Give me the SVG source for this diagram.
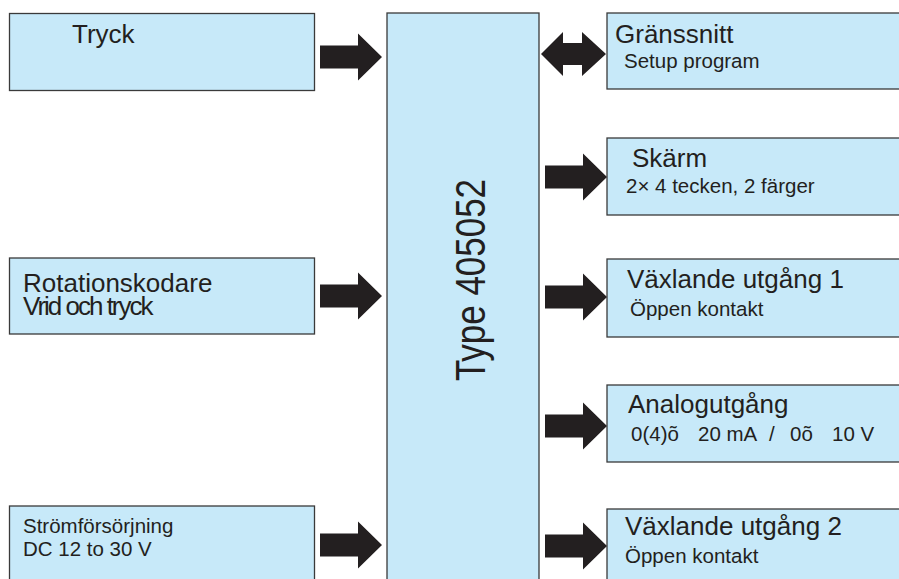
<svg xmlns="http://www.w3.org/2000/svg" xmlns:xlink="http://www.w3.org/1999/xlink" width="899" height="579" viewBox="0 0 899 579">
<defs>
<style>
.box{fill:#c7e9f9;stroke:#3a3a3a;stroke-width:1.3}
.arr{fill:#231f20}
text{font-family:"Liberation Sans",Arial,sans-serif;fill:#231f20}
.big{font-size:26px}
.sm{font-size:20.5px}
</style>
<path id="ar" d="M-62 -11.5 H-24 V-23.5 L0 0 L-24 23.5 V11.5 H-62 Z"/>
</defs>
<rect width="899" height="579" fill="#fff"/>
<g id="center">
<rect class="box" x="387" y="13" width="152" height="580"/>
<text x="0" y="0" font-size="38" text-anchor="middle" transform="translate(485 280) rotate(-90) scale(0.92 1.12)">Type 405052</text>
</g>
<g id="tryck">
<rect class="box" x="9.5" y="13.5" width="305" height="77"/>
<text class="big" x="72" y="43">Tryck</text>
</g>
<g id="rotation">
<rect class="box" x="9.5" y="258" width="305" height="76"/>
<text class="big" x="23" y="292">Rotationskodare</text>
<text class="big" x="23" y="315" letter-spacing="-2">Vrid och tryck</text>
</g>
<g id="strom">
<rect class="box" x="9.5" y="506" width="305" height="90"/>
<text class="sm" x="23" y="533" font-size="21">Strömförsörjning</text>
<text class="sm" x="23" y="556" font-size="21">DC 12 to 30 V</text>
</g>
<g id="granssnitt">
<rect class="box" x="607" y="13" width="300" height="76"/>
<text class="big" x="615" y="43">Gränssnitt</text>
<text class="sm" x="624" y="68">Setup program</text>
</g>
<g id="skarm">
<rect class="box" x="607" y="138" width="300" height="77"/>
<text class="big" x="632" y="167">Skärm</text>
<text class="sm" x="626" y="193">2× 4 tecken, 2 färger</text>
</g>
<g id="vaxlande1">
<rect class="box" x="607" y="259" width="300" height="78"/>
<text class="big" x="627" y="288">Växlande utgång 1</text>
<text class="sm" x="630" y="316">Öppen kontakt</text>
</g>
<g id="analog">
<rect class="box" x="607" y="385" width="300" height="77"/>
<text class="big" x="628" y="413">Analogutgång</text>
<text class="sm" y="441"><tspan x="631">0(4)õ</tspan><tspan x="698">20 mA</tspan><tspan x="769">/</tspan><tspan x="790">0õ</tspan><tspan x="832">10 V</tspan></text>
</g>
<g id="vaxlande2">
<rect class="box" x="607" y="509" width="300" height="90"/>
<text class="big" x="625" y="535">Växlande utgång 2</text>
<text class="sm" x="625" y="563">Öppen kontakt</text>
</g>
<g id="connectors">
<use href="#ar" xlink:href="#ar" class="arr" transform="translate(382 57)"/>
<use href="#ar" xlink:href="#ar" class="arr" transform="translate(382 296)"/>
<use href="#ar" xlink:href="#ar" class="arr" transform="translate(382 545)"/>
<use href="#ar" xlink:href="#ar" class="arr" transform="translate(607 177)"/>
<use href="#ar" xlink:href="#ar" class="arr" transform="translate(607 297)"/>
<use href="#ar" xlink:href="#ar" class="arr" transform="translate(607 426)"/>
<use href="#ar" xlink:href="#ar" class="arr" transform="translate(607 546)"/>
<path class="arr" d="M541 54 L563 32 V43 H582 V32 L606 54 L582 76 V65 H563 V76 Z"/>
</g>
</svg>
